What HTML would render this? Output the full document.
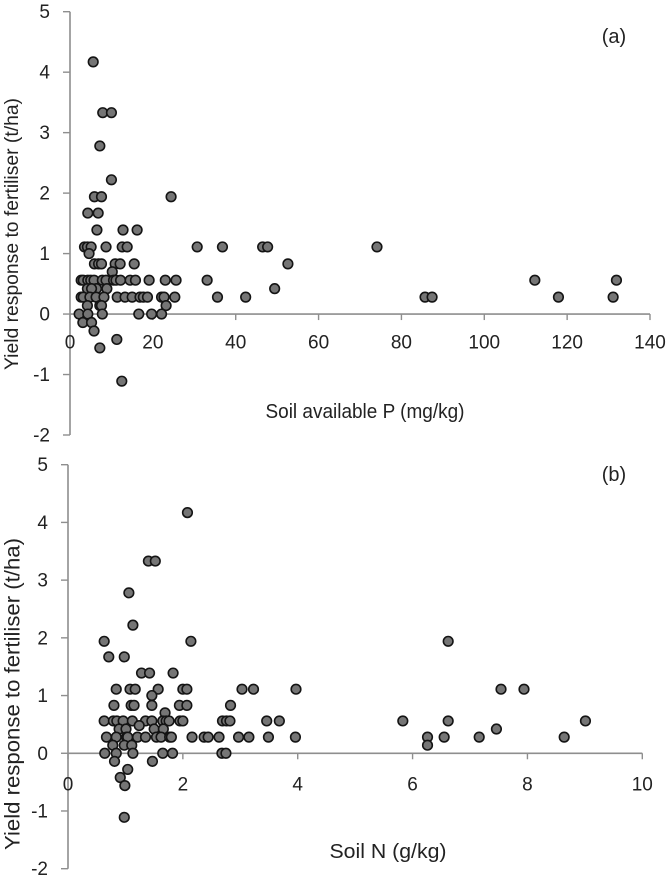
<!DOCTYPE html>
<html lang="en">
<head>
<meta charset="utf-8">
<title>Yield response to fertiliser</title>
<style>
html,body{margin:0;padding:0;background:#fff;}
svg{display:block;font-family:"Liberation Sans",sans-serif;fill:#222;}
</style>
</head>
<body>
<svg id="chart" width="669" height="883" viewBox="0 0 669 883" xmlns="http://www.w3.org/2000/svg">
  <rect width="669" height="883" fill="#ffffff"/>
  <g id="panel-a"></g>
  <g id="panel-b"></g>
</svg>
<script>
const yTickValues = [-2, -1, 0, 1, 2, 3, 4, 5];
const xTickValuesA = [0, 20, 40, 60, 80, 100, 120, 140];
const xTickValuesB = [0, 2, 4, 6, 8, 10];

const soilP = [
  5.6,
  7.9, 10,
  7.2,
  10,
  5.9, 7.6, 24.4,
  4.3, 6.8,
  6.5, 12.8, 16.2,
  3.5, 4.2, 5.1, 8.7, 12.6, 13.8, 30.7, 36.8, 46.5, 47.7, 74.1,
  4.6,
  5.9, 6.9, 7.6, 10.9, 12.1, 15.5, 52.6,
  10.2,
  2.7, 3.2, 4.3, 5, 5.8, 7.8, 8.7, 10.5, 11.1, 12.2, 14.5, 15.8, 19.1, 23, 25.6, 33.1, 112.2, 131.9,
  4.2, 6.4, 8.9, 5.2, 49.4,
  2.7, 3.2, 4.8, 6.3, 8.2, 11.4, 13.3, 15, 16.9, 17.7, 18.7, 22.1, 22.7, 25.3, 35.6, 42.4, 85.7, 87.4, 117.9, 131.1,
  4.2, 7.2, 7.6, 23.2,
  2.2, 4.3, 7.8, 16.6, 19.7, 22.1,
  3.1, 5.2,
  5.8,
  11.3,
  7.2,
  12.5
];
const responseA = [
  4.17,
  3.33, 3.33,
  2.78,
  2.22,
  1.94, 1.94, 1.94,
  1.67, 1.67,
  1.39, 1.39, 1.39,
  1.11, 1.11, 1.11, 1.11, 1.11, 1.11, 1.11, 1.11, 1.11, 1.11, 1.11,
  1,
  0.83, 0.83, 0.83, 0.83, 0.83, 0.83, 0.83,
  0.7,
  0.56, 0.56, 0.56, 0.56, 0.56, 0.56, 0.56, 0.56, 0.56, 0.56, 0.56, 0.56, 0.56, 0.56, 0.56, 0.56, 0.56, 0.56,
  0.42, 0.42, 0.42, 0.42, 0.42,
  0.28, 0.28, 0.28, 0.28, 0.28, 0.28, 0.28, 0.28, 0.28, 0.28, 0.28, 0.28, 0.28, 0.28, 0.28, 0.28, 0.28, 0.28, 0.28, 0.28,
  0.14, 0.14, 0.14, 0.14,
  0, 0, 0, 0, 0, 0,
  -0.14, -0.14,
  -0.28,
  -0.42,
  -0.56,
  -1.11
];

const soilN = [
  2.08,
  1.40, 1.52,
  1.06,
  1.13,
  0.63, 2.14, 6.62,
  0.71, 0.98,
  1.28, 1.42, 1.83,
  0.84, 1.08, 1.17, 1.57, 2.0, 2.07, 3.03, 3.23, 3.97, 7.54, 7.94,
  1.46,
  0.8, 1.1, 1.15, 1.46, 1.94, 2.07, 2.83,
  1.69,
  0.63, 0.79, 0.85, 0.96, 1.12, 1.35, 1.46, 1.65, 1.71, 1.76, 1.95, 2.0, 2.69, 2.76, 2.82, 3.46, 3.68, 5.83, 6.62, 9.01,
  1.24,
  0.89, 1.01, 1.5, 1.66, 7.46,
  0.67, 0.84, 1.02, 1.04, 1.21, 1.35, 1.54, 1.62, 1.77, 1.8, 2.16, 2.37, 2.44, 2.63, 2.97, 3.15, 3.49, 3.96, 6.26, 6.55, 7.16, 8.64,
  0.78, 0.98, 1.11, 6.26,
  0.64, 0.84, 1.13, 1.65, 1.82, 2.68, 2.75,
  0.81, 1.47,
  1.04,
  0.91,
  0.99,
  0.98
];
const responseB = [
  4.17,
  3.33, 3.33,
  2.78,
  2.22,
  1.94, 1.94, 1.94,
  1.67, 1.67,
  1.39, 1.39, 1.39,
  1.11, 1.11, 1.11, 1.11, 1.11, 1.11, 1.11, 1.11, 1.11, 1.11, 1.11,
  1,
  0.83, 0.83, 0.83, 0.83, 0.83, 0.83, 0.83,
  0.7,
  0.56, 0.56, 0.56, 0.56, 0.56, 0.56, 0.56, 0.56, 0.56, 0.56, 0.56, 0.56, 0.56, 0.56, 0.56, 0.56, 0.56, 0.56, 0.56, 0.56,
  0.48,
  0.42, 0.42, 0.42, 0.42, 0.42,
  0.28, 0.28, 0.28, 0.28, 0.28, 0.28, 0.28, 0.28, 0.28, 0.28, 0.28, 0.28, 0.28, 0.28, 0.28, 0.28, 0.28, 0.28, 0.28, 0.28, 0.28, 0.28,
  0.14, 0.14, 0.14, 0.14,
  0, 0, 0, 0, 0, 0, 0,
  -0.14, -0.14,
  -0.28,
  -0.42,
  -0.56,
  -1.11
];

const NS = 'http://www.w3.org/2000/svg';

function make(parent, tag, attrs, text) {
  const el = document.createElementNS(NS, tag);
  for (const k in attrs) el.setAttribute(k, attrs[k]);
  if (text !== undefined) el.textContent = text;
  parent.appendChild(el);
  return el;
}

function drawPanel(cfg) {
  const g = document.getElementById(cfg.id);
  const xScale = v => cfg.x0 + (v - cfg.xMin) / (cfg.xMax - cfg.xMin) * (cfg.x1 - cfg.x0);
  const yScale = v => cfg.yBottom + (v - (-2)) / 7 * (cfg.yTop - cfg.yBottom);
  const axisColor = '#8e8e8e';

  const yAxis = make(g, 'line', {x1: xScale(0), x2: xScale(0), y1: yScale(-2), y2: yScale(5), stroke: axisColor, 'stroke-width': 1.6});
  
  
  const xAxis = make(g, 'line', {x1: xScale(0), x2: xScale(cfg.xMax), y1: yScale(0), y2: yScale(0), stroke: axisColor, 'stroke-width': 1.6});
  
  

  yTickValues.forEach(v => {
    const t = make(g, 'line', {x1: xScale(0) - 7, x2: xScale(0), y1: yScale(v), y2: yScale(v), stroke: axisColor, 'stroke-width': 1.4});
    
    
    const l = make(g, 'text', {x: xScale(0) - cfg.yLabelGap, y: yScale(v) + 6.5, 'text-anchor': 'end', 'font-size': 19}, String(v));
    
    
  });

  cfg.xTicks.forEach(v => {
    const t = make(g, 'line', {x1: xScale(v), x2: xScale(v), y1: yScale(0), y2: yScale(0) + 6, stroke: axisColor, 'stroke-width': 1.4});
    
    
    const l = make(g, 'text', {x: xScale(v), y: yScale(0) + cfg.xLabelGap, 'text-anchor': 'middle', 'font-size': 19}, String(v));
    
    
  });

  cfg.xs.forEach((xv, i) => {
    const c = make(g, 'circle', {cx: xScale(xv), cy: yScale(cfg.ys[i]), r: 4.8, fill: '#757575', stroke: '#141414', 'stroke-width': 1.6});
    
    
  });

  const yt = make(g, 'text', {transform: 'translate(' + cfg.yTitleX + ',' + cfg.yTitleMid + ') rotate(-90)', 'text-anchor': 'middle', 'font-size': cfg.yTitleSize, textLength: cfg.yTitleLen, lengthAdjust: 'spacingAndGlyphs'}, 'Yield response to fertiliser (t/ha)');
  
  

  const xt = make(g, 'text', {x: cfg.xTitleX, y: cfg.xTitleY, 'text-anchor': 'middle', 'font-size': 20, textLength: cfg.xTitleLen, lengthAdjust: 'spacingAndGlyphs'}, cfg.xTitle);
  
  

  const tag = make(g, 'text', {x: 614, y: cfg.tagY, 'text-anchor': 'middle', 'font-size': 20}, cfg.tag);
  
  
}

drawPanel({
  id: 'panel-a', xs: soilP, ys: responseA, xTicks: xTickValuesA,
  xMin: 0, xMax: 140, x0: 70, x1: 650, yTop: 11.7, yBottom: 435,
  yLabelGap: 20, xLabelGap: 34.5,
  yTitleX: 18, yTitleMid: 234, yTitleLen: 272, yTitleSize: 19,
  xTitle: 'Soil available P (mg/kg)', xTitleX: 365, xTitleY: 418, xTitleLen: 199,
  tag: '(a)', tagY: 43
});
drawPanel({
  id: 'panel-b', xs: soilN, ys: responseB, xTicks: xTickValuesB,
  xMin: 0, xMax: 10, x0: 68, x1: 642.3, yTop: 464.7, yBottom: 868.7,
  yLabelGap: 20, xLabelGap: 37,
  yTitleX: 19.5, yTitleMid: 694, yTitleLen: 312, yTitleSize: 21,
  xTitle: 'Soil N (g/kg)', xTitleX: 388, xTitleY: 858, xTitleLen: 117,
  tag: '(b)', tagY: 481
});
</script>
</body>
</html>
